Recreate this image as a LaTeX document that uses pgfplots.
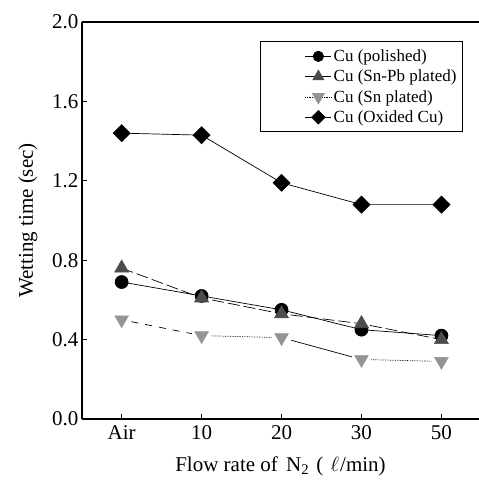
\documentclass[border=0pt]{standalone}
\usepackage{fontspec}
\setmainfont{Liberation Serif}
\usepackage{pgfplots}
\pgfplotsset{compat=1.18}
\usepackage{pgfplotstable}

\definecolor{trig}{gray}{0.30}
\definecolor{sng}{gray}{0.58}

\pgfplotsset{
    linelegend/.style={legend image code/.code={%
        \path (-40bp,0bp);
        \draw[mark repeat=2,mark phase=2,##1,every mark/.append style={scale=0.8}]
            plot coordinates {(0bp,0bp) (13bp,0bp) (26bp,0bp)};}},
    snlegend/.style={legend image code/.code={%
        \path (-40bp,0bp);
        \draw[black, densely dotted, line width=0.7bp] (0bp,0bp) -- (26bp,0bp);
        \path[##1,every mark/.append style={scale=0.8}] plot coordinates {(13bp,0bp)};}},
}

\pgfplotstableread{
x  pol   snpb  sn    ox
0  0.69  0.76  0.50  1.44
1  0.62  0.61  0.42  1.43
2  0.55  0.53  0.41  1.19
3  0.45  0.48  0.30  1.08
4  0.42  0.40  0.29  1.08
}\wetting

\begin{document}
\begin{tikzpicture}
\begin{axis}[
    at={(0,0)}, anchor=south west,
    width=397bp, height=397bp, scale only axis,
    xmin=-0.496, xmax=4.47,
    ymin=0, ymax=2.0,
    axis x line=bottom, axis y line=left,
    axis line style={-, line width=1.3bp},
    xtick={0,1,2,3,4},
    xticklabels={Air,10,20,30,50},
    ytick={0,0.4,0.8,1.2,1.6,2.0},
    yticklabel style={/pgf/number format/.cd, fixed, fixed zerofill, precision=1},
    xticklabel style={yshift=-3bp},
    /pgf/number format/assume math mode=true,
    tick align=inside,
    major tick length=5bp,
    tick style={line width=1bp, black},
    ticklabel style={font=\fontsize{21bp}{24bp}\selectfont},
    xlabel={Flow rate of\hspace{3bp} N\textsubscript{2}\hspace{2bp} (\hspace{2bp} $\ell$\hspace{1bp}/min)},
    ylabel={Wetting time (sec)},
    every axis x label/.style={at={(ticklabel cs:0.5)}, anchor=north, yshift=-10bp,
        font=\fontsize{21bp}{24bp}\selectfont},
    every axis y label/.style={at={(ticklabel cs:0.5)}, anchor=south, rotate=90, yshift=8bp,
        font=\fontsize{21bp}{24bp}\selectfont},
    legend style={at={(0.96,0.952)}, anchor=north east, draw=black, line width=1.3bp,
        font=\fontsize{17bp}{20bp}\selectfont, inner xsep=4bp, inner ysep=6bp,
        row sep=3bp, cells={anchor=west}},
    linelegend,
]
\addplot[black, line width=0.7bp, mark=*, mark size=6.5bp] table[x=x,y=pol] {\wetting};
\addlegendentry{Cu (polished)}
\addplot[black, line width=0.7bp, dash pattern=on 12bp off 4bp, mark=triangle*, mark size=8bp,
    mark options={solid, fill=trig, draw=trig}] table[x=x,y=snpb] {\wetting};
\addlegendentry{Cu (Sn-Pb plated)}
\addplot[only marks, mark=triangle*, mark size=8bp,
    mark options={solid, rotate=180, fill=sng, draw=sng}, snlegend]
    table[x=x,y=sn] {\wetting};
\addlegendentry{Cu (Sn plated)}
\addplot[black, line width=0.7bp, mark=square*, mark size=6bp, mark options={rotate=45}]
    table[x=x,y=ox] {\wetting};
\addlegendentry{Cu (Oxided Cu)}
% segments of the Sn plated line, each in its own style
\addplot[forget plot, black, line width=0.7bp, dash pattern=on 7bp off 7bp, shorten <=10bp, shorten >=10bp]
    coordinates {(0,0.50) (1,0.42)};
\addplot[forget plot, black, line width=0.7bp, densely dotted, shorten <=10bp, shorten >=10bp]
    coordinates {(1,0.42) (2,0.41)};
\addplot[forget plot, black, line width=0.7bp, shorten <=10bp, shorten >=10bp]
    coordinates {(2,0.41) (3,0.30)};
\addplot[forget plot, black, line width=0.7bp, densely dotted, shorten <=10bp, shorten >=10bp]
    coordinates {(3,0.30) (4,0.29)};
\draw[line width=1.3bp] (rel axis cs:0,1) -- (rel axis cs:1,1);
\end{axis}
\pgfresetboundingbox
\path[use as bounding box] (-82bp,-62bp) rectangle (397bp,419bp);
\end{tikzpicture}
\end{document}
